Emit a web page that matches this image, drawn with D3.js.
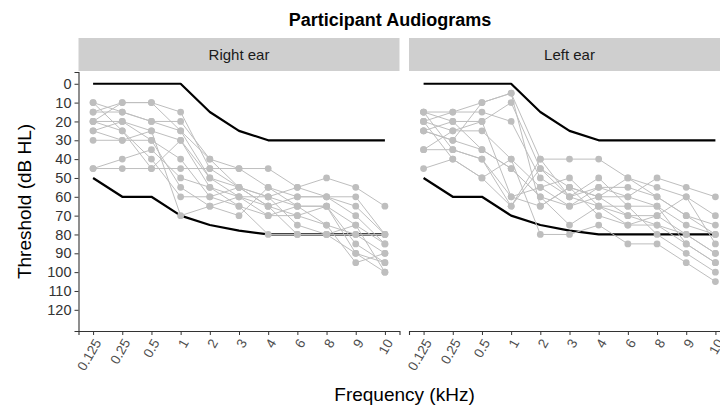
<!DOCTYPE html>
<html>
<head>
<meta charset="utf-8">
<script src="https://cdn.jsdelivr.net/npm/d3@7/dist/d3.min.js"></script>
<style>
  html, body { margin: 0; padding: 0; background: #fff; }
  svg { display: block; font-family: "Liberation Sans", Arial, sans-serif; }
</style>
</head>
<body>
<svg id="chart" width="720" height="408"></svg>
<script>
// Audiometric frequencies (kHz), shown as evenly spaced categories
const frequencies = ["0.125", "0.25", "0.5", "1", "2", "3", "4", "6", "8", "9", "10"];
const thresholdTicks = [0, 10, 20, 30, 40, 50, 60, 70, 80, 90, 100, 110, 120];
const ears = ["Right ear", "Left ear"];

// Inclusion range limits (dB HL) at each frequency
const upperLimit = [0, 0, 0, 0, 15, 25, 30, 30, 30, 30, 30];
const lowerLimit = [50, 60, 60, 70, 75, 78, 80, 80, 80, 80, 80];

// Per-participant thresholds (dB HL), one row per participant
const rightEar = [
  [10, 15, 20, 20, 40, 45, 55, 60, 60, 65, 80],
  [15, 10, 10, 15, 45, 55, 60, 65, 65, 75, 85],
  [20, 10, 10, 25, 50, 60, 65, 70, 75, 80, 90],
  [25, 20, 25, 30, 55, 60, 60, 55, 50, 55, 65],
  [30, 30, 30, 40, 60, 65, 70, 70, 65, 85, 95],
  [45, 45, 45, 45, 45, 45, 45, 55, 60, 60, 80],
  [45, 40, 35, 50, 55, 65, 80, 80, 80, 90, 100],
  [15, 15, 20, 25, 40, 55, 65, 60, 60, 70, 85],
  [20, 20, 30, 55, 65, 70, 55, 65, 75, 95, 90],
  [10, 25, 40, 60, 60, 55, 60, 75, 80, 80, 80],
  [25, 30, 25, 70, 65, 60, 70, 65, 65, 90, 95],
  [20, 25, 45, 30, 50, 55, 65, 80, 80, 75, 100]
];
const leftEar = [
  [15, 15, 10, 5, 40, 40, 40, 50, 55, 60, 70],
  [15, 20, 20, 10, 45, 55, 60, 60, 50, 55, 60],
  [20, 15, 15, 20, 50, 60, 55, 55, 60, 70, 75],
  [20, 25, 25, 40, 55, 50, 65, 65, 65, 75, 80],
  [25, 30, 35, 45, 60, 65, 60, 70, 70, 80, 90],
  [35, 25, 20, 60, 65, 55, 70, 75, 75, 85, 95],
  [35, 35, 40, 65, 40, 60, 50, 65, 80, 90, 100],
  [45, 40, 50, 40, 80, 80, 75, 85, 85, 95, 105],
  [25, 20, 35, 45, 60, 75, 65, 75, 70, 60, 85],
  [15, 35, 40, 60, 55, 65, 55, 60, 65, 85, 95],
  [20, 40, 50, 65, 45, 60, 65, 70, 75, 80, 90],
  [25, 30, 10, 5, 65, 55, 60, 50, 60, 70, 80]
];

const svg = d3.select("#chart");

const panelW = 321;
const panelLeft = [78.5, 409];
const panelTop = 72, panelBottom = 331;
const stripTop = 38, stripH = 33;

const x = d3.scalePoint().domain(frequencies).range([0, panelW]).padding(0.5);
const y = d3.scaleLinear().domain([-6.25, 131.25]).range([panelTop, panelBottom]);

const grey = "#bebebe";
const line = d3.line()
  .x((d, i) => x(frequencies[i]))
  .y(d => y(d));

const panels = [rightEar, leftEar];

panels.forEach((rows, p) => {
  const g = svg.append("g").attr("transform", `translate(${panelLeft[p]},0)`);

  // facet strip
  g.append("rect")
    .attr("x", 0).attr("y", stripTop)
    .attr("width", panelW).attr("height", stripH)
    .attr("fill", "#cfcfcf");
  g.append("text")
    .attr("x", panelW / 2).attr("y", stripTop + stripH / 2)
    .attr("dy", "0.35em")
    .attr("text-anchor", "middle")
    .attr("font-size", 15)
    .attr("fill", "#1a1a1a")
    .text(ears[p]);

  // inclusion limits
  [upperLimit, lowerLimit].forEach(lim => {
    g.append("path")
      .attr("d", line(lim))
      .attr("fill", "none")
      .attr("stroke", "#000")
      .attr("stroke-width", 2.2)
      .attr("stroke-linejoin", "round");
  });

  // participant audiograms
  const people = g.append("g");
  rows.forEach(r => {
    people.append("path")
      .attr("d", line(r))
      .attr("fill", "none")
      .attr("stroke", grey)
      .attr("stroke-width", 1);
  });
  rows.forEach(r => {
    people.selectAll(null)
      .data(r)
      .enter().append("circle")
      .attr("cx", (d, i) => x(frequencies[i]))
      .attr("cy", d => y(d))
      .attr("r", 3.4)
      .attr("fill", grey);
  });

  // bottom axis on every panel
  const xAxis = g.append("g")
    .attr("transform", `translate(0,${panelBottom})`)
    .call(d3.axisBottom(x).tickSizeOuter(0).tickSize(4).tickPadding(3));
  xAxis.select(".domain").attr("stroke", "#333").attr("stroke-width", 1.1);
  xAxis.selectAll(".tick line").attr("stroke", "#333");
  xAxis.selectAll(".tick text")
    .attr("font-size", 13.5)
    .attr("fill", "#4d4d4d")
    .attr("text-anchor", "end")
    .attr("transform", "translate(4,9) rotate(-60)")
    .attr("dy", "0.35em")
    .attr("y", 0)
    .attr("x", 0);

  // left axis only on the first panel
  if (p === 0) {
    const yAxis = g.append("g")
      .call(d3.axisLeft(y).tickValues(thresholdTicks).tickSizeOuter(0).tickSize(4).tickPadding(3));
    yAxis.select(".domain").attr("stroke", "#333").attr("stroke-width", 1.1);
    yAxis.selectAll(".tick line").attr("stroke", "#333");
    yAxis.selectAll(".tick text").attr("font-size", 14.5).attr("fill", "#333");
  }
});

// titles
svg.append("text")
  .attr("x", 390).attr("y", 26)
  .attr("text-anchor", "middle")
  .attr("font-size", 18)
  .attr("font-weight", "bold")
  .text("Participant Audiograms");

svg.append("text")
  .attr("x", 404.5).attr("y", 401)
  .attr("text-anchor", "middle")
  .attr("font-size", 19)
  .text("Frequency (kHz)");

svg.append("text")
  .attr("transform", `translate(31,${(panelTop + panelBottom) / 2}) rotate(-90)`)
  .attr("text-anchor", "middle")
  .attr("font-size", 19)
  .text("Threshold (dB HL)");
</script>
</body>
</html>
